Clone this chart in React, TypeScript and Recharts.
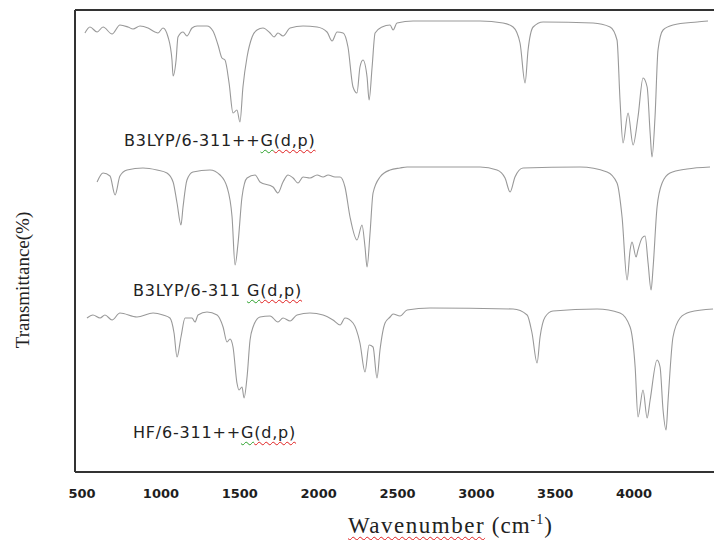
import { LineChart, Line, XAxis, YAxis, ReferenceLine } from 'recharts'

const W = 716
const H = 540
const X_MIN = 455
const X_MAX = 4507
const Y_MAX = 462
const X_TICKS = [500, 1000, 1500, 2000, 2500, 3000, 3500, 4000]

// B3LYP/6-311++G(d,p) — top trace
const B3LYP_DIFF_WN = [
  518, 550, 595, 633, 690, 740, 791, 823, 867, 918, 962, 981, 1013, 1045, 1070, 1077, 1096, 1108,
  1140, 1165, 1197, 1229, 1292, 1330, 1362, 1387, 1406, 1432, 1457, 1482, 1501, 1520, 1546, 1578,
  1609, 1647, 1692, 1717, 1742, 1774, 1819, 1901, 1990, 2053, 2085, 2117, 2155, 2186, 2218, 2243,
  2262, 2281, 2307, 2320, 2339, 2358, 2402, 2453, 2472, 2497, 2599, 3024, 3169, 3233, 3277, 3309,
  3328, 3360, 3423, 3740, 3848, 3892, 3911, 3930, 3962, 3994, 4025, 4057, 4083, 4102, 4114, 4133,
  4152, 4184, 4247, 4400, 4469,
]
const B3LYP_DIFF_T = [
  439, 445, 440, 445, 438, 447, 445, 443, 446, 444, 440, 439, 444, 435, 412, 396, 412, 435,
  440, 436, 444, 446, 446, 441, 427, 414, 412, 389, 359, 362, 350, 385, 415, 435,
  442, 444, 439, 435, 439, 436, 444, 446, 445, 440, 431, 440, 439, 425, 385, 379,
  405, 412, 395, 372, 405, 439, 445, 447, 442, 449, 451, 451, 449, 445, 429, 389,
  422, 445, 450, 449, 445, 432, 372, 329, 359, 327, 355, 394, 385, 339, 315, 355,
  422, 442, 447, 450, 451,
]

// B3LYP/6-311G(d,p) — middle trace
const B3LYP_WN = [
  595, 633, 677, 709, 740, 785, 886, 975, 1038, 1077, 1102, 1127, 1140, 1165, 1203, 1311, 1375,
  1419, 1451, 1470, 1489, 1514, 1546, 1597, 1628, 1711, 1742, 1774, 1806, 1838, 1869, 1901, 1945,
  1990, 2028, 2060, 2104, 2136, 2167, 2199, 2243, 2275, 2294, 2307, 2326, 2345, 2389, 2453, 2516,
  2561, 3024, 3131, 3182, 3214, 3245, 3296, 3658, 3829, 3892, 3924, 3956, 3975, 3987, 4013, 4025,
  4051, 4070, 4089, 4108, 4121, 4146, 4178, 4228, 4336, 4482,
]
const B3LYP_T = [
  290, 299, 296, 277, 296, 302, 304, 302, 299, 290, 269, 247, 265, 292, 300, 302, 297,
  285, 255, 207, 229, 275, 294, 297, 290, 285, 279, 290, 297, 294, 289, 295, 294,
  297, 295, 297, 295, 295, 285, 255, 232, 247, 225, 205, 239, 279, 295, 302, 304,
  305, 305, 302, 294, 280, 295, 304, 305, 300, 289, 255, 192, 222, 230, 215, 222,
  234, 236, 209, 182, 205, 265, 289, 299, 303, 305,
]

// HF/6-311++G(d,p) — bottom trace
const HF_WN = [
  531, 569, 614, 645, 690, 740, 848, 950, 1013, 1057, 1083, 1102, 1127, 1153, 1197, 1216, 1235,
  1292, 1356, 1394, 1419, 1438, 1457, 1482, 1495, 1514, 1527, 1546, 1565, 1584, 1628, 1692, 1742,
  1774, 1819, 1863, 1945, 2028, 2091, 2136, 2167, 2218, 2262, 2294, 2320, 2345, 2370, 2389, 2421,
  2453, 2472, 2516, 2561, 2706, 3233, 3322, 3353, 3385, 3404, 3436, 3486, 3766, 3911, 3975, 4007,
  4025, 4057, 4083, 4102, 4146, 4165, 4184, 4203, 4216, 4247, 4292, 4355, 4501,
]
const HF_T = [
  154, 157, 154, 157, 152, 159, 155, 159, 157, 154, 139, 115, 135, 154, 154, 150, 157,
  160, 157, 145, 130, 133, 125, 89, 82, 85, 74, 95, 132, 145, 155, 156, 150,
  154, 151, 157, 159, 157, 152, 147, 154, 149, 129, 100, 127, 125, 94, 122, 149,
  155, 158, 156, 162, 164, 163, 157, 139, 109, 135, 155, 161, 163, 159, 145, 105,
  55, 82, 54, 72, 112, 105, 62, 42, 72, 135, 154, 160, 163,
]

const LABELS = [
  { base: 'B3LYP/6-311++', top: 133, left: 124 },
  { base: 'B3LYP/6-311 ', top: 283, left: 133 },
  { base: 'HF/6-311++', top: 425, left: 133 },
]

const toPoints = (wn: number[], t: number[]) => wn.map((w, i) => ({ wn: w, t: t[i] }))

const series = [
  toPoints(B3LYP_DIFF_WN, B3LYP_DIFF_T),
  toPoints(B3LYP_WN, B3LYP_T),
  toPoints(HF_WN, HF_T),
]

const FRAME = '#333'
const TRACE = '#999'

// spell-check style squiggle under parts of the labels
const wavy = (color: string) => ({
  textDecorationLine: 'underline',
  textDecorationStyle: 'wavy' as const,
  textDecorationColor: color,
  textDecorationThickness: '1px',
  textUnderlineOffset: '3px',
})

export default function App() {
  return (
    <div style={{ position: 'absolute', left: 0, top: 0, width: W, height: H, background: '#fff', overflow: 'hidden' }}>
      <LineChart width={W} height={H} margin={{ top: 10, right: 2, bottom: 0, left: 75 }}>
        <XAxis
          dataKey="wn"
          type="number"
          domain={[X_MIN, X_MAX]}
          ticks={X_TICKS}
          allowDataOverflow
          height={68}
          tickLine={false}
          tickMargin={11}
          axisLine={{ stroke: FRAME, strokeWidth: 2 }}
          tick={{ fill: '#1e1e1e', fontSize: 13, fontWeight: 700, fontFamily: 'DejaVu Sans' }}
        />
        <YAxis type="number" domain={[0, Y_MAX]} hide />
        <ReferenceLine x={X_MIN} stroke={FRAME} strokeWidth={2} />
        <ReferenceLine y={Y_MAX} stroke={FRAME} strokeWidth={2} />
        {series.map((pts, i) => (
          <Line
            key={i}
            data={pts}
            dataKey="t"
            type="monotone"
            stroke={TRACE}
            strokeWidth={1.1}
            dot={false}
            isAnimationActive={false}
          />
        ))}
      </LineChart>

      {LABELS.map((l) => (
        <div
          key={l.base}
          style={{
            position: 'absolute', left: l.left, top: l.top, whiteSpace: 'pre',
            fontFamily: 'DejaVu Sans', fontSize: 16, lineHeight: '16px', letterSpacing: 0.8, color: '#222',
          }}
        >
          {l.base}
          <span style={wavy('#2aa02a')}>G</span>
          <span style={wavy('#e02020')}>(d,p)</span>
        </div>
      ))}

      <div
        style={{
          position: 'absolute', left: 23, top: 280, transform: 'translate(-50%, -50%) rotate(-90deg)',
          whiteSpace: 'nowrap', fontFamily: 'Liberation Serif', fontSize: 19, color: '#222',
        }}
      >
        Transmittance(%)
      </div>

      <div
        style={{
          position: 'absolute', left: 348, top: 514, whiteSpace: 'nowrap', letterSpacing: 1,
          fontFamily: 'Liberation Serif', fontSize: 23, lineHeight: '23px', color: '#222',
        }}
      >
        <span style={{ ...wavy('#e02020'), letterSpacing: 1.5 }}>Wavenumber</span> (cm
        <span style={{ fontSize: 14, position: 'relative', top: -9 }}>-1</span>)
      </div>
    </div>
  )
}
